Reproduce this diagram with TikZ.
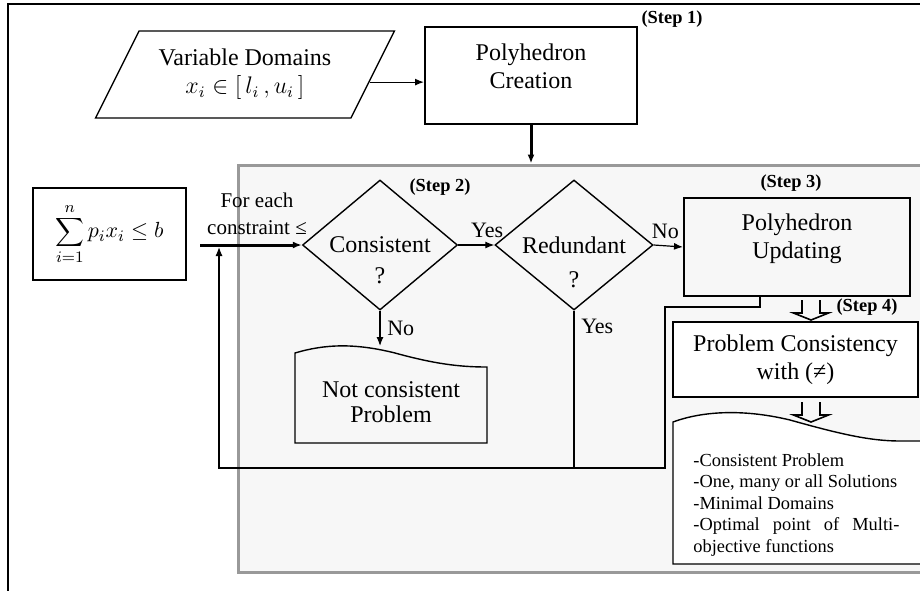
\documentclass[tikz,border=0pt]{standalone}
\usepackage{fontspec}
\setmainfont{Liberation Serif}
\usetikzlibrary{positioning,arrows.meta,calc,shapes.geometric}
\definecolor{panelfill}{HTML}{F7F7F7}
\definecolor{paneledge}{HTML}{999999}

\begin{document}
\begin{tikzpicture}[x=0.5pt,y=-0.5pt,>={Latex[length=4.5pt,width=3.5pt]},
  font=\fontsize{12}{14}\selectfont,
  outline/.style={draw,line width=0.7pt,inner sep=0pt},
  bigbox/.style={draw,line width=1pt,inner sep=0pt},
  decision/.style={diamond,draw,line width=0.7pt,inner sep=0pt},
  steplbl/.style={font=\bfseries\fontsize{9.2}{11}\selectfont},
  lbl/.style={font=\fontsize{11}{13}\selectfont},
  flow/.style={->,line width=0.6pt},
  flowline/.style={line width=0.6pt},
  thickflow/.style={->,line width=1.5pt},
  hollowdown/.pic={\draw[line width=0.8pt] (-9,0) -- (-9,13) -- (-17.5,13)
    -- (0,20) -- (17.5,13) -- (9,13) -- (9,0);}]
  \clip (0,0) rectangle (920,590);
  % outer frame and grey panel
  \draw[line width=1pt] (935,4) -- (8,4) -- (8,600);
  \node[draw=paneledge,fill=panelfill,line width=1.5pt,inner sep=0pt,
    minimum width=348.5pt,minimum height=203.5pt] (panel) at (586.5,368.5) {};

  % step 1
  \node[trapezium,trapezium left angle=55,trapezium right angle=125,
    trapezium stretches=true,outline,minimum width=149.5pt,minimum height=43.5pt,
    align=center] (dom) at (245,74.5)
    {Variable Domains\\$x_i \in \bigl[\,l_i\,,u_i\,\bigr]$};
  \node[bigbox,minimum width=106pt,minimum height=48.5pt] (creation) at (531,75.5) {};
  \node[align=center] (creationtxt) at (531,66) {Polyhedron\\Creation};
  \node[steplbl] (step1) at (672,19) {(Step 1)};
  \draw[flow] ($(dom.top right corner)!0.586!(dom.bottom right corner)$)
    coordinate (d1) -- (d1 -| creation.west);
  \draw[thickflow] (creation.south) -- (creation.south |- panel.north);

  % input constraint
  \node[outline,minimum width=76.5pt,minimum height=46pt] (sumbox) at (109.5,234)
    {\fontsize{11}{13}\selectfont$\displaystyle\sum_{i=1}^{n} p_i x_i \le b$};
  \coordinate (in) at (200,245);
  \coordinate (join) at (219,247);
  \node[font=\fontsize{10.5}{13.5}\selectfont,align=center] (foreach) at (257,214)
    {For each\\constraint ≤};

  % step 2
  \node[decision,minimum width=77.5pt,minimum height=65pt] (cons) at (380,245) {};
  \node[align=center,font=\fontsize{12}{15.5}\selectfont] (constxt) at (380,260)
    {Consistent\\?};
  \node[decision,minimum width=79pt,minimum height=65pt] (redund) at (574,245) {};
  \node[align=center,font=\fontsize{12}{17}\selectfont] (redundtxt) at (574,262)
    {Redundant\\?};
  \node[steplbl] (step2) at (440,187) {(Step 2)};

  % not consistent
  \draw[line width=0.7pt] (295,443) -- (295,353)
    .. controls (325,344) and (355,343) .. (395,353)
    .. controls (435,364) and (460,367) .. (487,367) -- (487,443) -- cycle;
  \coordinate (nctop) at (380,346);
  \node[align=center,font=\fontsize{12}{12.5}\selectfont] (notcons) at (391,402)
    {Not consistent\\Problem};

  % step 3
  \node[bigbox,minimum width=113pt,minimum height=49pt] (upd) at (797,247) {};
  \node[align=center] (updtxt) at (797,238.5) {Polyhedron\\Updating};
  \node[steplbl] (step3) at (791,183) {(Step 3)};

  % step 4
  \node[outline,fill=white,minimum width=122.5pt,minimum height=37.5pt,
    align=center] (probcons) at (795.5,359.5) {Problem Consistency\\with (≠)};
  \node[steplbl] (step4) at (867,307) {(Step 4)};
  \pic at (811,300) {hollowdown};
  \draw[line width=0.7pt,fill=white] (673,564) -- (673,422)
    .. controls (700,412) and (740,408) .. (790,420)
    .. controls (840,434) and (870,441) .. (900,441) -- (935,441)
    -- (935,564) -- cycle;
  \pic at (811,402) {hollowdown};
  \node[anchor=north west,inner sep=0pt,align=left,
    font=\fontsize{9.2}{10.75}\selectfont] (results) at (693,453)
    {-Consistent Problem\\-One, many or all Solutions\\-Minimal Domains\\
     \makebox[103pt][s]{-Optimal point of Multi-}\\objective functions};

  % connectors
  \draw[thickflow] (in) -- (cons.west);
  \draw[flow] (cons.east) -- node[lbl,above,pos=0.8] (yes1) {Yes} (redund.west);
  \draw[flow] (redund.east) -- node[lbl,above,pos=0.4] (no1) {No} (upd.west);
  \draw[flow] (cons.south) -- node[lbl,right] (no2) {No} (nctop);
  \draw[flowline] (redund.south) -- node[lbl,right,pos=0.1] (yes2) {Yes}
    (redund.south |- 0,468);
  \draw[flow] ([xshift=-18.5pt]upd.south) |- (665,307) |- (join |- 0,468) -- (join);
\end{tikzpicture}
\end{document}
